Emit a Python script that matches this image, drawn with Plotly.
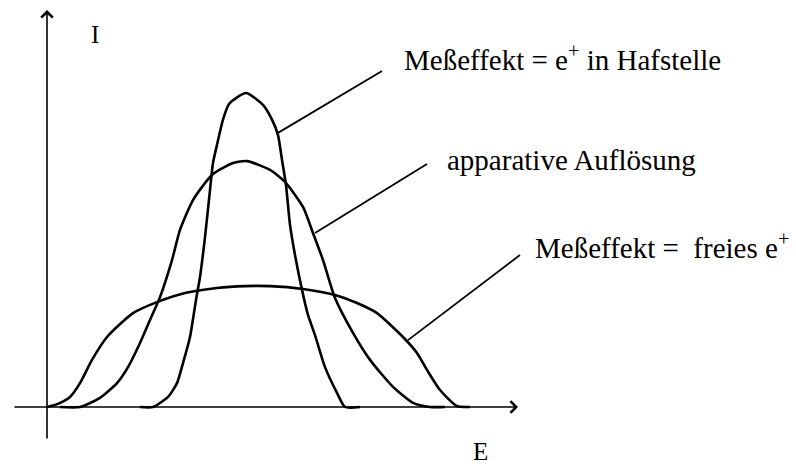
import plotly.graph_objects as go

# Data (E in arbitrary units, I relative to the narrow peak)
narrow_E = [2.325, 2.65, 3.025, 3.25, 3.4, 3.575, 3.725, 3.825, 3.95, 4.075, 4.15, 4.25, 4.4, 4.55,
            4.975, 5.4, 5.625, 5.775, 5.875, 5.975, 6.075, 6.2, 6.375, 6.525, 6.7, 6.95, 7.25, 7.45, 7.825]
narrow_I = [0.0, 0.0, 0.032, 0.076, 0.140, 0.223, 0.341, 0.414, 0.541, 0.691, 0.777, 0.835, 0.915, 0.965,
            1.0, 0.962, 0.915, 0.866, 0.787, 0.707, 0.580, 0.484, 0.373, 0.293, 0.229, 0.127, 0.045, 0.0, 0.0]

medium_E = [0.325, 0.825, 1.325, 1.75, 2.025, 2.325, 2.575, 2.825, 3.125, 3.325, 3.65, 4.125, 4.65,
            5.0, 5.575, 5.95, 6.4, 6.65, 6.9, 7.2, 7.65, 8.075, 8.65, 9.15, 9.575, 9.95]
medium_I = [0.0, 0.0, 0.029, 0.076, 0.127, 0.204, 0.277, 0.350, 0.468, 0.564, 0.659, 0.739, 0.777,
            0.783, 0.755, 0.717, 0.637, 0.554, 0.468, 0.347, 0.236, 0.150, 0.064, 0.013, 0.0, 0.0]

broad_E = [0.0, 0.275, 0.575, 0.825, 1.125, 1.5, 2.15, 2.75, 3.45, 4.25, 4.95, 5.575, 6.4, 7.2,
           7.75, 8.25, 8.9, 9.25, 9.5, 9.825, 10.25, 10.575]
broad_I = [0.0, 0.010, 0.032, 0.076, 0.150, 0.223, 0.299, 0.334, 0.363, 0.379, 0.385, 0.385, 0.376,
           0.357, 0.331, 0.299, 0.223, 0.172, 0.118, 0.054, 0.003, 0.0]

labels = ["Meßeffekt = e<sup>+</sup> in Hafstelle",
          "apparative Auflösung",
          "Meßeffekt =\u00a0\u00a0freies e<sup>+</sup>"]
axis_labels = ["E", "I"]

FONT = "Liberation Serif, Times New Roman, serif"
fig = go.Figure()
for xs, ys in [(broad_E, broad_I), (medium_E, medium_I), (narrow_E, narrow_I)]:
    fig.add_trace(go.Scatter(x=xs, y=ys, mode="lines",
                             line=dict(color="black", width=2.6, shape="spline", smoothing=0.6),
                             hoverinfo="skip", showlegend=False))

# leader lines: (curve point) -> (text end)
leaders = [((5.775, 0.873), (8.375, 1.070)),
           ((6.7, 0.554), (9.5, 0.774)),
           ((9.025, 0.213), (11.825, 0.484))]
for (x0, y0), (x1, y1) in leaders:
    fig.add_shape(type="line", x0=x0, y0=y0, x1=x1, y1=y1, xref="x", yref="y",
                  line=dict(color="black", width=1.8))

text_pos = [(8.875, 1.111), (9.95, 0.787), (12.15, 0.513)]
for t, (x, y) in zip(labels, text_pos):
    fig.add_annotation(x=x, y=y, text=t, showarrow=False, xanchor="left", yanchor="middle",
                       font=dict(family=FONT, size=29, color="black"))

# axes with open arrowheads
fig.add_annotation(x=11.775, y=0, ax=-0.85, ay=0, axref="x", ayref="y", xref="x", yref="y",
                   text="", showarrow=True, arrowhead=4, arrowsize=1.4, arrowwidth=1.6,
                   arrowcolor="black", standoff=0)
fig.add_annotation(x=0, y=1.264, ax=0, ay=-0.105, axref="x", ayref="y", xref="x", yref="y",
                   text="", showarrow=True, arrowhead=4, arrowsize=1.4, arrowwidth=1.6,
                   arrowcolor="black", standoff=0)
fig.add_annotation(x=10.825, y=-0.143, text=axis_labels[0], showarrow=False,
                   font=dict(family=FONT, size=25, color="black"))
fig.add_annotation(x=1.2, y=1.185, text=axis_labels[1], showarrow=False,
                   font=dict(family=FONT, size=25, color="black"))

fig.update_layout(
    width=796, height=468,
    margin=dict(l=0, r=0, t=0, b=0),
    paper_bgcolor="white", plot_bgcolor="white",
    xaxis=dict(range=[-1.175, 18.725], visible=False, fixedrange=True),
    yaxis=dict(range=[-0.1943, 1.2962], visible=False, fixedrange=True),
    showlegend=False,
)
fig.write_html("out.html", config={"displayModeBar": False},
               post_script="document.body.style.margin='0';document.body.style.overflow='hidden';")
